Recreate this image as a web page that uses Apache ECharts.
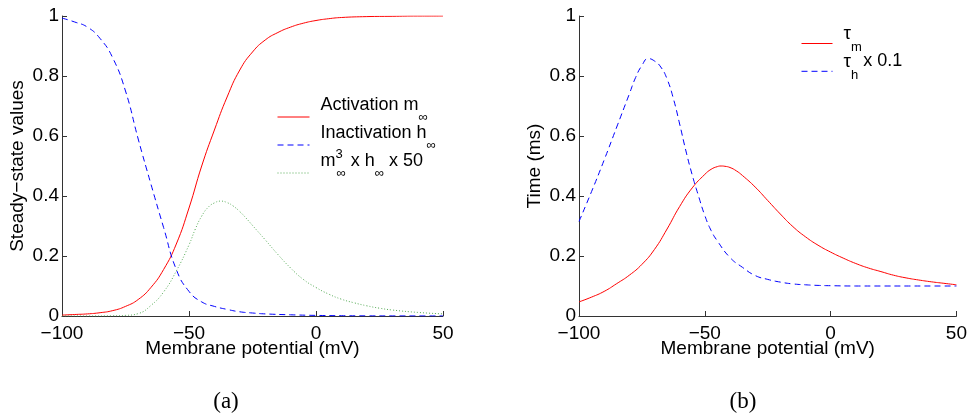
<!DOCTYPE html>
<html>
<head>
<meta charset="utf-8">
<script src="https://cdn.jsdelivr.net/npm/echarts@6/dist/echarts.min.js"></script>
<style>
html,body{margin:0;padding:0;background:#fff;}
#c{width:970px;height:414px;}
</style>
</head>
<body>
<div id="c"></div>
<script>
// ---- Panel (a): steady-state values ----
const mInfV = [-100,-95,-90,-85,-80,-75,-70,-65,-60,-55,-50,-45,-40,-35,-30,-25,-20,-15,-10,-5,0,5,10,20,30,40,50];
const mInf  = [0.003,0.005,0.007,0.011,0.018,0.032,0.055,0.095,0.155,0.24,0.36,0.50,0.62,0.73,0.82,0.88,0.92,0.945,0.963,0.976,0.985,0.991,0.995,0.998,0.999,1.0,1.0];

const hInfV = [-100,-95,-90,-85,-80,-75,-70,-65,-60,-55,-50,-45,-40,-35,-30,-25,-20,-10,0,10,20,30,50];
const hInf  = [0.993,0.98,0.963,0.925,0.86,0.75,0.59,0.44,0.295,0.155,0.082,0.047,0.032,0.022,0.014,0.01,0.007,0.004,0.002,0.001,0.0005,0.0003,0.0001];

const mhV = [-100,-90,-80,-75,-70,-65,-60,-55,-50,-47.5,-45,-42.5,-40,-37.5,-35,-32.5,-30,-27.5,-25,-20,-15,-10,-5,0,5,10,15,20,25,30,40,50];
const mh  = [0,0,0.0005,0.002,0.008,0.035,0.08,0.15,0.237,0.29,0.333,0.362,0.377,0.383,0.378,0.366,0.348,0.326,0.302,0.254,0.205,0.16,0.122,0.095,0.073,0.056,0.044,0.034,0.026,0.02,0.012,0.007];

// ---- Panel (b): time constants ----
const tmV = [-100,-95,-90,-85,-80,-75,-70,-65,-60,-55,-50,-47.5,-45,-43.5,-42,-40,-37.5,-35,-30,-25,-20,-15,-10,-5,0,5,10,15,20,25,30,35,40,45,50];
const tm  = [0.047,0.063,0.082,0.108,0.136,0.172,0.222,0.29,0.365,0.427,0.472,0.489,0.498,0.5,0.499,0.495,0.484,0.468,0.43,0.385,0.34,0.298,0.264,0.236,0.213,0.193,0.175,0.16,0.148,0.136,0.127,0.12,0.114,0.109,0.104];

const thV = [-100,-95,-90,-85,-80,-77.5,-75,-72.5,-70,-67.5,-65,-62.5,-60,-57.5,-55,-52.5,-50,-47.5,-45,-40,-35,-30,-25,-20,-15,-10,-5,0,10,20,30,40,50];
const th  = [0.315,0.415,0.52,0.63,0.74,0.795,0.835,0.858,0.85,0.83,0.79,0.725,0.64,0.55,0.47,0.40,0.335,0.285,0.25,0.195,0.162,0.135,0.122,0.113,0.107,0.104,0.102,0.101,0.1,0.1,0.1,0.1,0.1];

const xTicks = {min:-100, max:50, interval:50};
const yTicks = {min:0, max:1, interval:0.2};

const namesA = ['Activation m∞', 'Inactivation h∞', 'm3∞ x h∞ x 50'];
const namesB = ['τm', 'τh x 0.1'];
const richNamesA = {
  'Activation m∞': '{a|Activation m}{s|∞}{q|3}',
  'Inactivation h∞': '{a|Inactivation h}{s|∞}{q|3}',
  'm3∞ x h∞ x 50': '{a|m}{p|3}{s|∞}{a| x h}{s|∞}{a| x 50}'
};
const richNamesB = {
  'τm': '{t|τ}{s|m}',
  'τh x 0.1': '{t|τ}{s|h}{a| x 0.1}'
};

const FONT = 'Liberation Sans, Arial, Helvetica, sans-serif';
const pair = (xs, ys) => xs.map((x, i) => [x, ys[i]]);
const minus = v => (v < 0 ? '\u2212' + Math.abs(v) : String(v));

function xAxis(gi) {
  return {
    type: 'value', gridIndex: gi, min: xTicks.min, max: xTicks.max, interval: xTicks.interval,
    name: 'Membrane potential (mV)', nameLocation: 'middle', nameGap: 23, nameMoveOverlap: false,
    nameTextStyle: {fontFamily: FONT, fontSize: 19, color: '#000'},
    axisLine: {show: true, onZero: false, lineStyle: {color: '#333', width: 1}},
    axisTick: {show: true, inside: true, length: 5, lineStyle: {color: '#333'}},
    axisLabel: {fontFamily: FONT, fontSize: 19, color: '#000', margin: 8, formatter: minus},
    splitLine: {show: false}
  };
}
function yAxis(gi, name) {
  return {
    type: 'value', gridIndex: gi, min: yTicks.min, max: yTicks.max, interval: yTicks.interval,
    name: name, nameLocation: 'middle', nameGap: 35, nameMoveOverlap: false,
    nameTextStyle: {fontFamily: FONT, fontSize: 19, color: '#000'},
    axisLine: {show: true, onZero: false, lineStyle: {color: '#333', width: 1}},
    axisTick: {show: true, inside: true, length: 5, lineStyle: {color: '#333'}},
    axisLabel: {fontFamily: FONT, fontSize: 19, color: '#000', margin: 3},
    splitLine: {show: false}
  };
}
function line(name, gi, data, color, type) {
  return {
    type: 'line', name: name, xAxisIndex: gi, yAxisIndex: gi, data: data,
    showSymbol: false, symbol: 'none', smooth: true, animation: false,
    lineStyle: {color: color, width: 1, type: type}, itemStyle: {color: color}
  };
}
const noSymbol = {color: 'rgba(0,0,0,0)', opacity: 0, borderWidth: 0};

const chart = echarts.init(document.getElementById('c'), null, {renderer: 'canvas'});
chart.setOption({
  backgroundColor: '#fff',
  animation: false,
  grid: [
    {left: 62, right: 527, top: 16, bottom: 98},
    {left: 579, right: 11, top: 16, bottom: 98}
  ],
  xAxis: [xAxis(0), xAxis(1)],
  yAxis: [yAxis(0, 'Steady\u2212state values'), yAxis(1, 'Time (ms)')],
  legend: [
    {
      data: namesA, orient: 'vertical', left: 277, top: 92, padding: 0, itemGap: -5,
      itemWidth: 32, itemHeight: 20, selectedMode: false,
      itemStyle: noSymbol, lineStyle: {width: 1},
      formatter: n => richNamesA[n],
      textStyle: {
        fontFamily: FONT, fontSize: 18, color: '#000', padding: [0, 0, 0, 6],
        rich: {
          a: {fontFamily: FONT, fontSize: 18, color: '#000', padding: [4, 0, 28, 0]},
          s: {fontFamily: FONT, fontSize: 13, color: '#000'},
          p: {fontFamily: FONT, fontSize: 13, color: '#000', padding: [0, 0, 37, 0], width: 1},
          q: {fontFamily: FONT, fontSize: 13, color: 'rgba(0,0,0,0)', padding: [0, 0, 37, 0], width: 1}
        }
      }
    },
    {
      data: namesB, orient: 'vertical', left: 801, top: 24, padding: 0, itemGap: -2.2,
      itemWidth: 31, itemHeight: 20, selectedMode: false,
      itemStyle: noSymbol, lineStyle: {width: 1},
      formatter: n => richNamesB[n],
      textStyle: {
        fontFamily: FONT, fontSize: 18, color: '#000', padding: [0, 0, 0, 6],
        rich: {
          a: {fontFamily: FONT, fontSize: 18, color: '#000', padding: [0, 0, 20, 0]},
          t: {fontFamily: FONT, fontSize: 19, color: '#000', padding: [0, 0, 20, 0]},
          s: {fontFamily: FONT, fontSize: 13, color: '#000', padding: [8, 0, 0, 0]}
        }
      }
    }
  ],
  graphic: [
    {type: 'text', x: 226, y: 402, style: {text: '(a)', font: '23px "Liberation Serif", "DejaVu Serif", serif', fill: '#000', textAlign: 'center', textVerticalAlign: 'middle'}},
    {type: 'text', x: 743, y: 402, style: {text: '(b)', font: '23px "Liberation Serif", "DejaVu Serif", serif', fill: '#000', textAlign: 'center', textVerticalAlign: 'middle'}}
  ],
  series: [
    line(namesA[0], 0, pair(mInfV, mInf), '#ff0000', 'solid'),
    line(namesA[1], 0, pair(hInfV, hInf), '#0000ff', [6, 4]),
    line(namesA[2], 0, pair(mhV, mh), '#55aa55', [1, 2]),
    line(namesB[0], 1, pair(tmV, tm), '#ff0000', 'solid'),
    line(namesB[1], 1, pair(thV, th), '#0000ff', [6, 4])
  ]
});
</script>
</body>
</html>
